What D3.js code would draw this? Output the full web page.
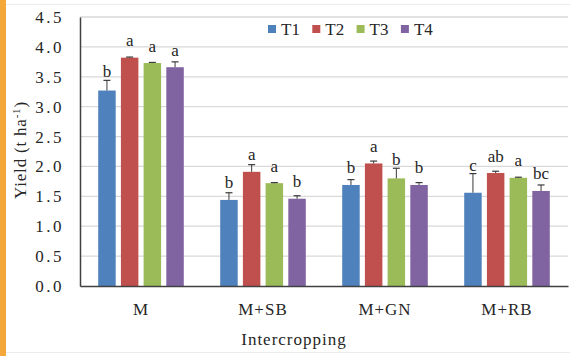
<!DOCTYPE html>
<html>
<head>
<meta charset="utf-8">
<script src="https://cdn.jsdelivr.net/npm/d3@7"></script>
<style>
  html, body { margin: 0; padding: 0; background: #fff; }
  svg { display: block; }
  svg text { font-family: "Liberation Serif", Tinos, "Times New Roman", "DejaVu Serif", serif !important; fill: #262626; }
</style>
</head>
<body>
<svg id="chart" width="570" height="356"></svg>
<script>
// Maize yield under intercropping systems, treatments T1–T4
const categories = ["M", "M+SB", "M+GN", "M+RB"];
const series = ["T1", "T2", "T3", "T4"];
const colors = ["#4F81BD", "#C0504D", "#9BBB59", "#8064A2"];

const t1 = [3.27, 1.44, 1.69, 1.56];
const t2 = [3.82, 1.91, 2.05, 1.89];
const t3 = [3.73, 1.72, 1.80, 1.81];
const t4 = [3.66, 1.46, 1.69, 1.59];

const t1Err = [0.17, 0.12, 0.09, 0.32];
const t2Err = [0.01, 0.12, 0.04, 0.03];
const t3Err = [0.01, 0.01, 0.17, 0.01];
const t4Err = [0.09, 0.05, 0.04, 0.10];

const t1Sig = ["b", "b", "b", "c"];
const t2Sig = ["a", "a", "a", "ab"];
const t3Sig = ["a", "a", "b", "a"];
const t4Sig = ["a", "b", "b", "bc"];

const yTicks = [0, 0.5, 1.0, 1.5, 2.0, 2.5, 3.0, 3.5, 4.0, 4.5];

const values = [t1, t2, t3, t4];
const errs = [t1Err, t2Err, t3Err, t4Err];
const sigs = [t1Sig, t2Sig, t3Sig, t4Sig];

const svg = d3.select("#chart");
const W = 570, H = 356;
const plot = { left: 80, right: 568, top: 17, bottom: 286 };

// page frame and accent strip
svg.append("rect").attr("x", 0).attr("y", 0).attr("width", 6).attr("height", H).attr("fill", "#F5A83A");
svg.append("line").attr("x1", 6).attr("x2", W).attr("y1", 4.5).attr("y2", 4.5).attr("stroke", "#ececec");
svg.append("line").attr("x1", 6).attr("x2", W).attr("y1", 352.5).attr("y2", 352.5).attr("stroke", "#ececec");

const x = d3.scaleBand().domain(categories).range([plot.left, plot.right]);
const xi = d3.scaleBand().domain(series).range([-45.4, 45.4]).paddingInner(0.23).paddingOuter(0.115);
const y = d3.scaleLinear().domain([0, 4.5]).range([plot.bottom, plot.top]);

// gridlines
svg.append("g").selectAll("line").data(yTicks.slice(1)).join("line")
  .attr("x1", plot.left).attr("x2", plot.right)
  .attr("y1", d => y(d)).attr("y2", d => y(d))
  .attr("stroke", "#d9d9d9").attr("stroke-width", 1.3);

// y axis
const yAxis = svg.append("g").attr("transform", `translate(${plot.left},0)`)
  .call(d3.axisLeft(y).tickValues(yTicks).tickFormat(d3.format(".1f")).tickSize(0).tickPadding(16));
yAxis.attr("font-family", null);
yAxis.select(".domain").attr("stroke", "#404040").attr("stroke-width", 1.5);
yAxis.selectAll("text").attr("font-size", 17).attr("letter-spacing", 2.5).attr("fill", "#262626");

// bars
const groups = svg.append("g").selectAll("g").data(categories).join("g")
  .attr("transform", d => `translate(${x(d) + x.bandwidth() / 2},0)`);

series.forEach((s, si) => {
  groups.append("rect")
    .attr("x", xi(s))
    .attr("width", xi.bandwidth())
    .attr("y", (d, ci) => y(values[si][ci]))
    .attr("height", (d, ci) => y(0) - y(values[si][ci]))
    .attr("fill", colors[si]);

  // positive error bars
  const cx = xi(s) + xi.bandwidth() / 2;
  groups.append("line")
    .attr("x1", cx).attr("x2", cx)
    .attr("y1", (d, ci) => y(values[si][ci]))
    .attr("y2", (d, ci) => y(values[si][ci] + errs[si][ci]))
    .attr("stroke", "#3a3a3a").attr("stroke-width", 1);
  groups.append("line")
    .attr("x1", cx - 3.5).attr("x2", cx + 3.5)
    .attr("y1", (d, ci) => y(values[si][ci] + errs[si][ci]))
    .attr("y2", (d, ci) => y(values[si][ci] + errs[si][ci]))
    .attr("stroke", "#3a3a3a").attr("stroke-width", 1.2);

  // significance letters
  groups.append("text")
    .attr("x", cx)
    .attr("y", (d, ci) => Math.min(y(values[si][ci]) - 11.5, y(values[si][ci] + errs[si][ci]) - 3))
    .attr("text-anchor", "middle")
    .attr("font-size", 17)
    .text((d, ci) => sigs[si][ci]);
});

// x axis
const xAxis = svg.append("g").attr("transform", `translate(0,${plot.bottom})`)
  .call(d3.axisBottom(x).tickSize(0).tickPadding(17));
xAxis.attr("font-family", null);
xAxis.select(".domain").attr("stroke", "#404040").attr("stroke-width", 1.5);
xAxis.selectAll("text").attr("font-size", 17).attr("letter-spacing", 1).attr("fill", "#262626");

// axis titles
svg.append("text").attr("x", 294).attr("y", 345).attr("text-anchor", "middle")
  .attr("font-size", 17).attr("letter-spacing", 1).text("Intercropping");

const yt = svg.append("text").attr("transform", "translate(26,150) rotate(-90)")
  .attr("text-anchor", "middle").attr("font-size", 17).attr("letter-spacing", 0.8);
yt.append("tspan").text("Yield (t ha");
yt.append("tspan").attr("font-size", 11).attr("dy", -6).text("-1");
yt.append("tspan").attr("dy", 6).text(")");

// legend
const legend = svg.append("g").selectAll("g").data(series).join("g")
  .attr("transform", (d, i) => `translate(${268 + i * 44.3},0)`);
legend.append("rect").attr("x", 0).attr("y", 25).attr("width", 8).attr("height", 8)
  .attr("fill", (d, i) => colors[i]);
legend.append("text").attr("x", 13).attr("y", 35).attr("font-size", 17).text(d => d);
</script>
</body>
</html>
